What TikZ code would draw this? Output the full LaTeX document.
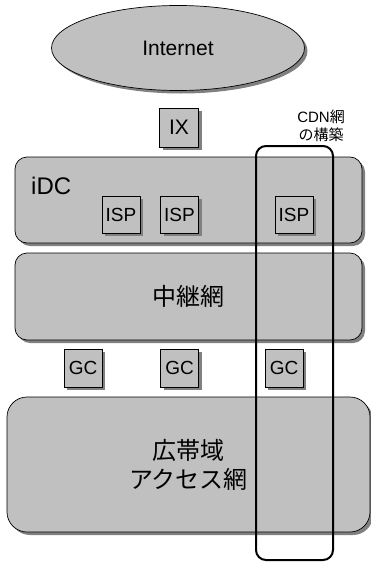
\documentclass[tikz,border=0pt]{standalone}
\usepackage{fontspec}
\setmainfont{Liberation Sans}
\newfontfamily\jp{Noto Sans CJK JP}
\usepackage{tikz}
\usetikzlibrary{shapes.geometric, shadows}
\definecolor{boxgray}{HTML}{C0C0C0}
\definecolor{shadowgray}{HTML}{808080}
\tikzset{
  layer/.style={draw=black, line width=0.7pt, fill=boxgray,
    drop shadow={shadow xshift=3pt, shadow yshift=-3pt, fill=shadowgray, opacity=1}},
  smallbox/.style={layer, rectangle, inner sep=0pt, minimum width=38pt, minimum height=38pt,
    font=\fontsize{19}{22}\selectfont},
}

\begin{document}
\begin{tikzpicture}[x=1pt, y=-1pt]
\useasboundingbox (0,0) rectangle (371,562);
% top: internet and exchange
\node[layer, ellipse, minimum width=253pt, minimum height=85pt,
  font=\fontsize{21}{25}\selectfont] (inet) at (178,48) {Internet};
\node[smallbox, minimum width=39pt, minimum height=39pt,
  font=\fontsize{21}{25}\selectfont] (ix) at (179,127.5) {IX};
% iDC layer
\node[layer, rectangle, rounded corners=12pt, minimum width=347pt, minimum height=86pt] (idc) at (188.5,200) {};
\node[anchor=west, inner sep=0pt, font=\fontsize{24}{28}\selectfont] (idclabel) at (31,186) {iDC};
\foreach \n/\x in {1/121, 2/179.5, 3/294}
  \node[smallbox, minimum height=37pt] (isp\n) at (\x,214.5) {ISP};
% relay network
\node[layer, rectangle, rounded corners=12pt, minimum width=347pt, minimum height=87pt,
  font=\jp\fontsize{24}{28}\selectfont] (relay) at (188.5,296.5) {中継網};
\foreach \n/\x in {1/83, 2/179.5, 3/284}
  \node[smallbox] (gc\n) at (\x,368) {GC};
% access network
\node[layer, rectangle, rounded corners=20pt, minimum width=363pt, minimum height=135pt,
  align=center, font=\jp\fontsize{24}{29}\selectfont] (access) at (188.5,464.5) {広帯域\\アクセス網};
% CDN column on top
\node[draw=black, line width=2pt, rounded corners=10pt, rectangle,
  minimum width=77pt, minimum height=414pt] (cdn) at (294.5,353) {};
\node[align=center, inner sep=0pt, font=\fontsize{15}{18}\selectfont] (cdnlabel) at (321,126)
  {CDN{\jp 網}\\{\jp の構築}};
\end{tikzpicture}
\end{document}
